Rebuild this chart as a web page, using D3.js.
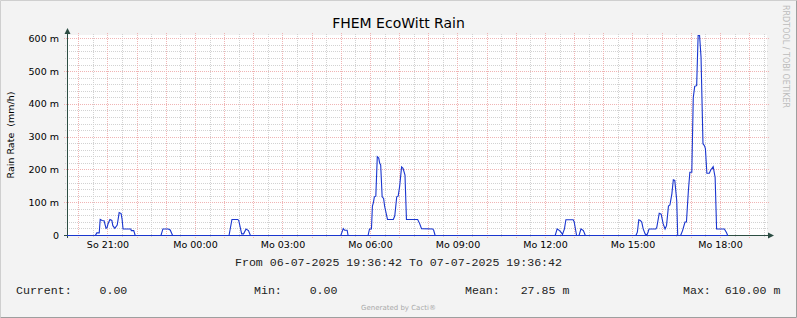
<!DOCTYPE html>
<html>
<head>
<meta charset="utf-8">
<script src="https://cdn.jsdelivr.net/npm/d3@7"></script>
<style>
  html, body { margin: 0; padding: 0; background: #f3f3f3; }
  svg { display: block; }
  text { font-family: "DejaVu Sans", sans-serif; fill: #000; }
  .mono { font-family: "Liberation Mono", "DejaVu Sans Mono", monospace; font-size: 11.6px; white-space: pre; fill: #222; }
</style>
</head>
<body>
<script>
"use strict";

// window range of the rrd graph
const startTime = "2025-07-06 19:36:42";
const endTime = "2025-07-07 19:36:42";

// rain rate samples, time (HH:MM) and value in milli mm/h
const rainTimes = [
  "19:37", "20:35", "20:38", "20:43", "20:45", "20:49", "20:53", "20:57", "20:59", "21:01",
  "21:05", "21:09", "21:11", "21:15", "21:20", "21:24", "21:28", "21:30", "21:32", "21:48",
  "21:49", "21:54", "21:57",
  "22:50", "22:54", "23:05", "23:09", "23:14",
  "01:10", "01:16", "01:28", "01:30", "01:36", "01:40", "01:45", "01:50", "01:54",
  "05:00", "05:05", "05:08", "05:13", "05:15",
  "05:56", "05:59", "06:03", "06:05", "06:07", "06:09", "06:12", "06:15", "06:18", "06:20",
  "06:22", "06:25", "06:28", "06:30", "06:36", "06:48", "06:51", "06:55", "06:58", "07:01",
  "07:05", "07:08", "07:12", "07:15", "07:38", "07:42", "07:46", "08:09", "08:11", "08:14",
  "12:21", "12:25", "12:30", "12:34", "12:36", "12:40", "12:43", "12:58", "13:00", "13:05",
  "13:10", "13:14", "13:19", "13:23",
  "15:07", "15:10", "15:13", "15:16", "15:19", "15:22", "15:26", "15:29", "15:32", "15:34",
  "15:48", "15:50", "15:55", "15:59", "16:03", "16:07", "16:10", "16:14", "16:17", "16:21",
  "16:24", "16:27", "16:31", "16:33", "16:39", "16:43", "16:48", "16:51", "16:55", "16:58",
  "17:02", "17:05", "17:08", "17:12", "17:15", "17:18", "17:21", "17:25", "17:28", "17:30",
  "17:33", "17:38", "17:41", "17:46", "17:50", "17:53", "18:09", "18:13", "18:16", "19:36"
];
const rainValues = [
  0, 0, 8, 8, 49, 46, 45, 22, 24, 35,
  49, 46, 30, 22, 32, 70, 67, 50, 20, 20,
  15, 15, 0,
  0, 20, 20, 17, 0,
  0, 49, 49, 46, 5, 5, 20, 15, 0,
  0, 21, 16, 16, 0,
  0, 20, 20, 90, 100, 118, 120, 240, 236, 220,
  215, 118, 113, 90, 49, 49, 60, 118, 120, 150,
  209, 205, 184, 49, 49, 37, 21, 20, 16, 0,
  0, 20, 15, 8, 3, 20, 48, 48, 42, 0,
  0, 20, 15, 0,
  0, 10, 48, 46, 41, 20, 5, 0, 10, 20,
  20, 25, 68, 65, 36, 20, 30, 90, 93, 127,
  170, 168, 107, 0, 0, 15, 41, 41, 137, 193,
  193, 420, 455, 457, 610, 610, 544, 280, 274, 265,
  190, 190, 200, 210, 177, 20, 20, 10, 0, 0
];

const yTickValues = [0, 100, 200, 300, 400, 500, 600];
const xTickTimes = [
  "2025-07-06 21:00", "2025-07-07 00:00", "2025-07-07 03:00", "2025-07-07 06:00",
  "2025-07-07 09:00", "2025-07-07 12:00", "2025-07-07 15:00", "2025-07-07 18:00"
];
const weekdays = ["So", "Mo", "Di", "Mi", "Do", "Fr", "Sa"];

const legendLabels = ["Current:", "Min:", "Mean:", "Max:"];
const legendValues = ["0.00", "0.00", "27.85 m", "610.00 m"];
const legendGaps = [4, 4, 3, 2];

//SVG dimensions
const w = 797;
const h = 318;
const plotLeft = 67;
const plotRight = 767;
const plotTop = 35;
const plotBottom = 235;

const axisColor = "#2c4d43";
const lineColor = "#1a36cf";
const minorColor = "#d2d2d2";
const majorColor = "#f0b4b4";

const parseFull = d3.utcParse("%Y-%m-%d %H:%M:%S");
const parseMin = d3.utcParse("%Y-%m-%d %H:%M");

// times after 19:36 belong to the first day
const toDate = (hhmm) => parseMin((hhmm >= "19:36" ? "2025-07-06 " : "2025-07-07 ") + hhmm);

const dataset = rainTimes.map((t, i) => ({ time: toDate(t), value: rainValues[i] }));

const t0 = parseFull(startTime);
const t1 = parseFull(endTime);

const xScale = d3.scaleUtc().domain([t0, t1]).range([plotLeft, plotRight]);
const yScale = d3.scaleLinear().domain([0, 610]).range([plotBottom, plotTop]);

const svg = d3.select("body").append("svg").attr("width", w).attr("height", h);

//background and frame
svg.append("rect").attr("width", w).attr("height", h).attr("fill", "#f3f3f3");
svg.append("path").attr("d", `M0.5,${h - 0.5}V0.5H${w - 0.5}`).attr("fill", "none").attr("stroke", "#cfcfcf");
svg.append("path").attr("d", `M0.5,${h - 0.5}H${w - 0.5}V0.5`).attr("fill", "none").attr("stroke", "#9e9e9e");

svg
  .append("rect")
  .attr("x", plotLeft)
  .attr("y", plotTop)
  .attr("width", plotRight - plotLeft)
  .attr("height", plotBottom - plotTop)
  .attr("fill", "#fff");

const crisp = (v) => Math.round(v) + 0.5;

//grid lines, minor first then major
const grid = svg.append("g").attr("fill", "none").attr("stroke-dasharray", "1,1");

const minorX = d3.utcMinute.every(30).range(t0, t1).filter((d) => d.getUTCMinutes() !== 0);
const majorX = d3.utcHour.range(t0, t1);
const minorY = d3.range(20, 610, 20).filter((v) => v % 100 !== 0);
const majorY = yTickValues.filter((v) => v > 0);

grid
  .selectAll(".minor-x")
  .data(minorX)
  .enter()
  .append("line")
  .attr("x1", (d) => crisp(xScale(d)))
  .attr("x2", (d) => crisp(xScale(d)))
  .attr("y1", plotBottom + 2)
  .attr("y2", plotTop - 2)
  .attr("stroke", minorColor);

grid
  .selectAll(".minor-y")
  .data(minorY)
  .enter()
  .append("line")
  .attr("x1", plotLeft - 2)
  .attr("x2", plotRight + 2)
  .attr("y1", (d) => crisp(yScale(d)))
  .attr("y2", (d) => crisp(yScale(d)))
  .attr("stroke", minorColor);

grid
  .selectAll(".major-x")
  .data(majorX)
  .enter()
  .append("line")
  .attr("x1", (d) => crisp(xScale(d)))
  .attr("x2", (d) => crisp(xScale(d)))
  .attr("y1", plotBottom + 3)
  .attr("y2", plotTop - 2)
  .attr("stroke", majorColor);

grid
  .selectAll(".major-y")
  .data(majorY)
  .enter()
  .append("line")
  .attr("x1", plotLeft - 3)
  .attr("x2", plotRight + 2)
  .attr("y1", (d) => crisp(yScale(d)))
  .attr("y2", (d) => crisp(yScale(d)))
  .attr("stroke", majorColor);

//rain rate line
svg.append("clipPath").attr("id", "plot-clip")
  .append("rect")
  .attr("x", plotLeft)
  .attr("y", plotTop - 1)
  .attr("width", plotRight - plotLeft)
  .attr("height", plotBottom - plotTop + 2);

const line = d3
  .line()
  .x((d) => xScale(d.time))
  .y((d) => yScale(d.value) + 0.5);

//axes
svg
  .append("line")
  .attr("x1", plotLeft - 3)
  .attr("x2", plotRight + 2)
  .attr("y1", plotBottom + 0.5)
  .attr("y2", plotBottom + 0.5)
  .attr("stroke", axisColor);
svg
  .append("line")
  .attr("x1", plotLeft + 0.5)
  .attr("x2", plotLeft + 0.5)
  .attr("y1", plotBottom + 3)
  .attr("y2", plotTop - 2)
  .attr("stroke", axisColor);

svg
  .append("path")
  .attr("clip-path", "url(#plot-clip)")
  .attr("d", line(dataset))
  .attr("fill", "none")
  .attr("stroke", lineColor)
  .attr("stroke-width", 1.1);

svg
  .append("path")
  .attr("d", `M${plotLeft + 0.5},${plotTop - 7}L${plotLeft - 2.5},${plotTop - 1}L${plotLeft + 3.5},${plotTop - 1}Z`)
  .attr("fill", axisColor);
svg
  .append("path")
  .attr("d", `M${plotRight + 7},${plotBottom + 0.5}L${plotRight + 1},${plotBottom - 2.5}L${plotRight + 1},${plotBottom + 3.5}Z`)
  .attr("fill", axisColor);

//tick labels
const formatTick = (d) => `${weekdays[d.getUTCDay()]} ${d3.utcFormat("%H:%M")(d)}`;
const xAxis = d3
  .axisBottom(xScale)
  .tickValues(xTickTimes.map(parseMin))
  .tickFormat(formatTick)
  .tickSize(0)
  .tickPadding(6);

svg
  .append("g")
  .attr("transform", `translate(0, ${plotBottom})`)
  .call(xAxis)
  .call((g) => g.select(".domain").remove())
  .call((g) => g.selectAll(".tick text").attr("font-family", "DejaVu Sans").attr("font-size", "9.5px").attr("fill", "#000"));

const yAxis = d3
  .axisLeft(yScale)
  .tickValues(yTickValues)
  .tickFormat((v) => (v === 0 ? "0" : `${v} m`))
  .tickSize(0)
  .tickPadding(8);

svg
  .append("g")
  .attr("transform", `translate(${plotLeft}, 0)`)
  .call(yAxis)
  .call((g) => g.select(".domain").remove())
  .call((g) => g.selectAll(".tick text").attr("font-family", "DejaVu Sans").attr("font-size", "9.5px").attr("fill", "#000"));

//titles
svg
  .append("text")
  .attr("x", 398.5)
  .attr("y", 28)
  .attr("text-anchor", "middle")
  .attr("font-size", "14px")
  .text("FHEM EcoWitt Rain");

svg
  .append("text")
  .attr("transform", "translate(14, 135) rotate(-90)")
  .attr("text-anchor", "middle")
  .attr("font-size", "9.5px")
  .style("white-space", "pre")
  .text("Rain Rate  (mm/h)");

svg
  .append("text")
  .attr("transform", "translate(783, 5) rotate(90)")
  .attr("font-size", "8px")
  .style("fill", "#bcbcbc")
  .text("RRDTOOL / TOBI OETIKER");

//legend
svg
  .append("text")
  .attr("class", "mono")
  .attr("x", 398.5)
  .attr("y", 266)
  .attr("text-anchor", "middle")
  .text("From 06-07-2025 19:36:42 To 07-07-2025 19:36:42");

const legendX = [16, 254, 465, 683];
svg
  .selectAll(".legend-item")
  .data(legendLabels)
  .enter()
  .append("text")
  .attr("class", "mono legend-item")
  .attr("x", (d, i) => legendX[i])
  .attr("y", 294)
  .text((d, i) => d + " ".repeat(legendGaps[i]) + legendValues[i]);

svg
  .append("text")
  .attr("x", 398.5)
  .attr("y", 310)
  .attr("text-anchor", "middle")
  .attr("font-size", "7px")
  .style("fill", "#aaa")
  .text("Generated by Cacti®");
</script>
</body>
</html>
